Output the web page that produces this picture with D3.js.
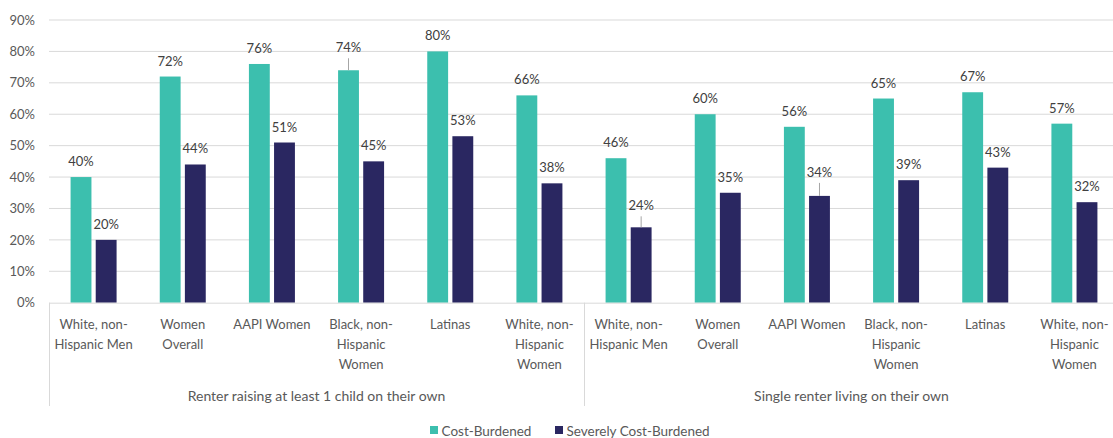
<!DOCTYPE html>
<html>
<head>
<meta charset="utf-8">
<script src="https://cdn.jsdelivr.net/npm/d3@7"></script>
<style>
  html, body { margin: 0; padding: 0; background: #ffffff; }
  svg { display: block; }
  text { font-family: Lato, "Open Sans", sans-serif; fill: #595959; }
</style>
</head>
<body>
<svg id="chart" width="1113" height="438"></svg>
<script>
// ---- data ----
const groups = ["Renter raising at least 1 child on their own", "Single renter living on their own"];
const categories = [
  ["White, non-", "Hispanic Men"],
  ["Women", "Overall"],
  ["AAPI Women"],
  ["Black, non-", "Hispanic", "Women"],
  ["Latinas"],
  ["White, non-", "Hispanic", "Women"]
];
const seriesNames = ["Cost-Burdened", "Severely Cost-Burdened"];
const costBurdened = [40, 72, 76, 74, 80, 66, 46, 60, 56, 65, 67, 57];
const severelyCostBurdened = [20, 44, 51, 45, 53, 38, 24, 35, 34, 39, 43, 32];
const yTicks = [0, 10, 20, 30, 40, 50, 60, 70, 80, 90];
// labels lifted with a leader line: [series index, bar index, lift in px]
const liftedLabels = [[0, 3, 7], [1, 6, 6], [1, 8, 8]];

const colors = ["#3cbfae", "#2a2761"];

// ---- layout ----
const svg = d3.select("#chart");
const mLeft = 49, mRight = 1119, mTop = 20, mBottom = 302.7;

const bars = [];
costBurdened.forEach((v, i) => bars.push({ s: 0, i, v }));
severelyCostBurdened.forEach((v, i) => bars.push({ s: 1, i, v }));

const idx = d3.range(costBurdened.length);
const x0 = d3.scaleBand().domain(idx).range([mLeft, mRight]).padding(0);
const bw = x0.bandwidth();
const pair = 46;
const x1 = d3.scaleBand().domain([0, 1]).range([(bw - pair) / 2, (bw + pair) / 2]).paddingInner(0.17).paddingOuter(0);
const y = d3.scaleLinear().domain([0, 90]).range([mBottom, mTop]);

// gridlines
svg.append("g").selectAll("line").data(yTicks.filter(t => t > 0)).join("line")
  .attr("x1", mLeft).attr("x2", mRight)
  .attr("y1", d => y(d)).attr("y2", d => y(d))
  .attr("stroke", "#d9d9d9").attr("stroke-width", 1);

// y axis
const yAxis = d3.axisLeft(y).tickValues(yTicks).tickFormat(d => d + "%").tickSize(0).tickPadding(14);
const ya = svg.append("g").attr("transform", `translate(${mLeft},0)`).call(yAxis);
ya.select(".domain").remove();
ya.selectAll("text").style("font-size", "13px").style("fill", "#595959").style("font-family", "Lato, sans-serif");

// bars
svg.append("g").selectAll("rect").data(bars).join("rect")
  .attr("x", d => x0(d.i) + x1(d.s))
  .attr("width", x1.bandwidth())
  .attr("y", d => y(d.v))
  .attr("height", d => y(0) - y(d.v))
  .attr("fill", d => colors[d.s]);

// x axis baseline
svg.append("line").attr("x1", mLeft).attr("x2", mRight).attr("y1", mBottom + 0.5).attr("y2", mBottom + 0.5)
  .attr("stroke", "#d9d9d9");

// data labels
const liftOf = (d) => { const l = liftedLabels.find(a => a[0] === d.s && a[1] === d.i); return l ? l[2] : 0; };
svg.append("g").selectAll("text").data(bars).join("text")
  .attr("x", d => x0(d.i) + x1(d.s) + x1.bandwidth() / 2)
  .attr("y", d => y(d.v) - 11 - liftOf(d))
  .attr("text-anchor", "middle")
  .style("font-size", "13px")
  .style("fill", "#404040")
  .text(d => d.v + "%");
svg.append("g").selectAll("line").data(bars.filter(d => liftOf(d) > 0)).join("line")
  .attr("x1", d => x0(d.i) + x1(d.s) + x1.bandwidth() / 2)
  .attr("x2", d => x0(d.i) + x1(d.s) + x1.bandwidth() / 2)
  .attr("y1", d => y(d.v) - liftOf(d) - 5)
  .attr("y2", d => y(d.v))
  .attr("stroke", "#a6a6a6");

// category labels
const catAll = groups.flatMap(() => categories);
const cl = svg.append("g").selectAll("text").data(catAll).join("text")
  .attr("text-anchor", "middle")
  .attr("transform", (d, i) => `translate(${x0(i) + bw / 2},0)`)
  .style("font-size", "13px");
cl.selectAll("tspan").data(d => d).join("tspan")
  .attr("x", 0).attr("y", (d, k) => 329 + k * 20)
  .text(d => d);

// group separators and labels
const groupW = (mRight - mLeft) / groups.length;
svg.append("g").selectAll("line").data(d3.range(groups.length + 1)).join("line")
  .attr("x1", d => mLeft + d * groupW + 0.5).attr("x2", d => mLeft + d * groupW + 0.5)
  .attr("y1", mBottom).attr("y2", 406)
  .attr("stroke", "#d9d9d9");
svg.append("g").selectAll("text").data(groups).join("text")
  .attr("x", (d, i) => mLeft + (i + 0.5) * groupW)
  .attr("y", 401)
  .attr("text-anchor", "middle")
  .style("font-size", "14px")
  .text(d => d);

// legend
const legend = svg.append("g").attr("transform", "translate(430,426)");
const lx = [0, 125];
const li = legend.selectAll("g").data(seriesNames).join("g").attr("transform", (d, i) => `translate(${lx[i]},0)`);
li.append("rect").attr("width", 8).attr("height", 8).attr("y", 0).attr("fill", (d, i) => colors[i]);
li.append("text").attr("x", 11.5).attr("y", 9.5).style("font-size", "13.5px").text(d => d);
</script>
</body>
</html>
